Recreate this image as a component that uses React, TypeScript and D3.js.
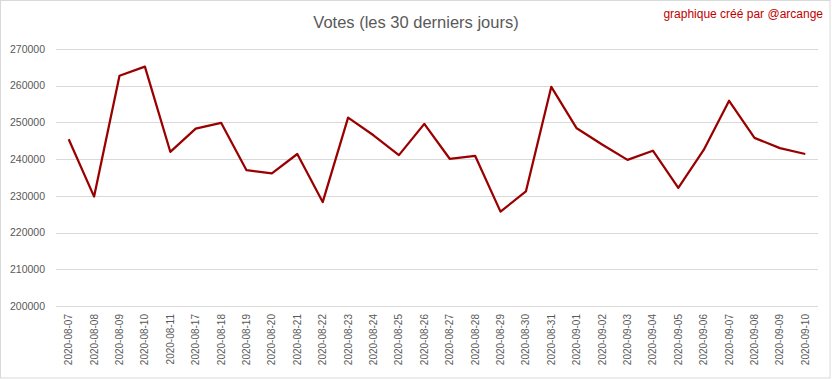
import React from "react";
import * as d3 from "d3";

const dates: string[] = [
  "2020-08-07", "2020-08-08", "2020-08-09", "2020-08-10", "2020-08-11",
  "2020-08-17", "2020-08-18", "2020-08-19", "2020-08-20", "2020-08-21",
  "2020-08-22", "2020-08-23", "2020-08-24", "2020-08-25", "2020-08-26",
  "2020-08-27", "2020-08-28", "2020-08-29", "2020-08-30", "2020-08-31",
  "2020-09-01", "2020-09-02", "2020-09-03", "2020-09-04", "2020-09-05",
  "2020-09-06", "2020-09-07", "2020-09-08", "2020-09-09", "2020-09-10",
];

const votes: number[] = [
  245400, 229800, 262700, 265200, 242000,
  248300, 249900, 237000, 236100, 241400,
  228300, 251300, 246500, 241100, 249600,
  240100, 240900, 225700, 231200, 259700,
  248400, 244000, 239800, 242300, 232200,
  242500, 255900, 245800, 243000, 241400,
];

const yTicks: number[] = [200000, 210000, 220000, 230000, 240000, 250000, 260000, 270000];

const title = "Votes (les 30 derniers jours)";
const credit = "graphique créé par @arcange";

const W = 832;
const H = 379;
const M = { left: 56, right: 14, top: 49, bottom: 73 };

export default function App() {
  const x = d3
    .scaleBand<string>()
    .domain(dates)
    .range([M.left, W - M.right])
    .padding(0);
  const y = d3.scaleLinear().domain([200000, 270000]).range([H - M.bottom, M.top]);

  const line = d3
    .line<number>()
    .x((_, i) => (x(dates[i]) as number) + x.bandwidth() / 2)
    .y((d) => y(d));

  const font = "'Liberation Sans', Arial, sans-serif";

  return (
    <svg
      width={W}
      height={H}
      style={{ position: "absolute", left: 0, top: 0, background: "#fff" }}
      fontFamily={font}
    >
      <rect x={0.5} y={0.5} width={829.5} height={377.5} fill="#fff" stroke="#d9d9d9" />
      <text x={416} y={28} textAnchor="middle" fontSize={16.5} fill="#595959">
        {title}
      </text>
      <text x={823} y={18} textAnchor="end" fontSize={12} fill="#c00000">
        {credit}
      </text>
      {yTicks.map((t) => (
        <g key={t}>
          <line
            x1={M.left}
            x2={W - M.right}
            y1={Math.round(y(t)) + 0.5}
            y2={Math.round(y(t)) + 0.5}
            stroke="#d9d9d9"
            strokeWidth={1}
          />
          <text
            x={45}
            y={y(t)}
            dy="0.35em"
            textAnchor="end"
            fontSize={10.5}
            fill="#595959"
          >
            {t}
          </text>
        </g>
      ))}
      {dates.map((d) => {
        const cx = (x(d) as number) + x.bandwidth() / 2;
        const ty = H - M.bottom + 8;
        return (
          <text
            key={d}
            transform={`translate(${cx + 3.5},${ty}) rotate(-90)`}
            textAnchor="end"
            fontSize={10}
            fill="#595959"
          >
            {d}
          </text>
        );
      })}
      <path
        d={line(votes) || ""}
        fill="none"
        stroke="#9a0000"
        strokeWidth={2.25}
        strokeLinejoin="round"
      />
    </svg>
  );
}
